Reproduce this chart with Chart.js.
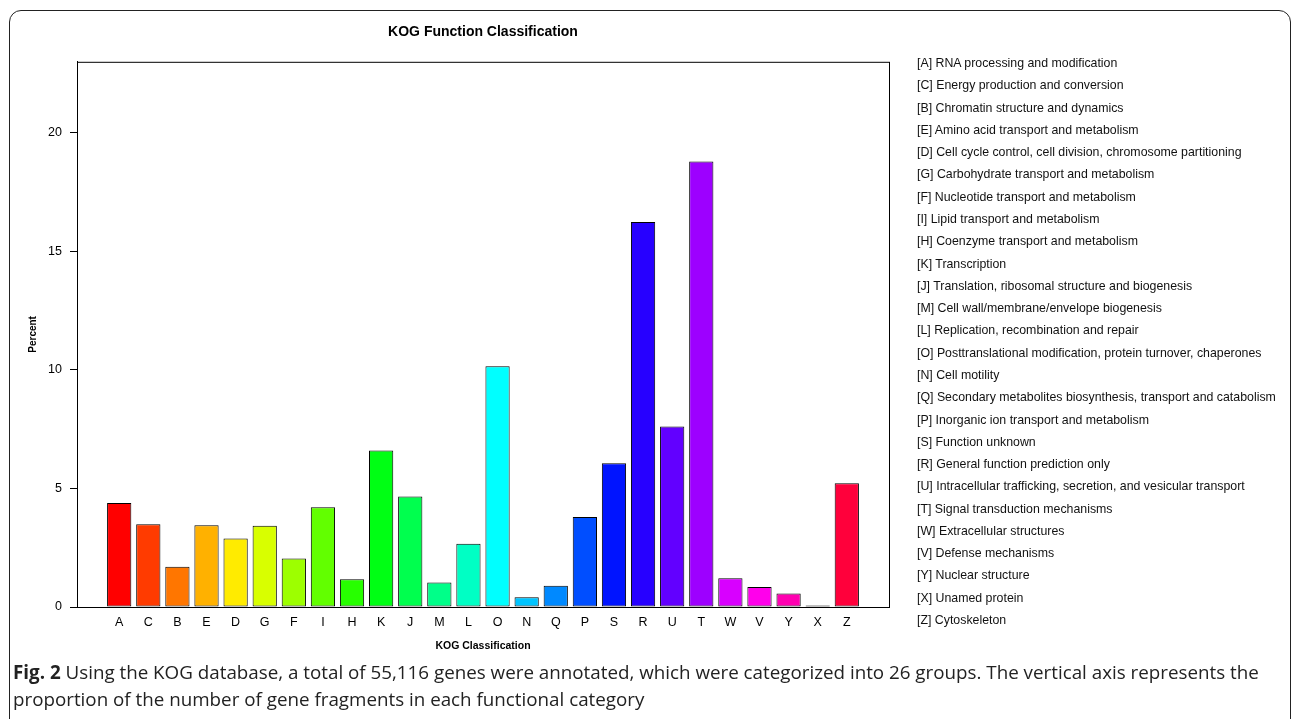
<!DOCTYPE html>
<html lang="en">
<head>
<meta charset="UTF-8">
<title>KOG Function Classification</title>
<script src="https://cdn.jsdelivr.net/npm/chart.js"></script>
<style>
  body { margin: 0; background: #fff; width: 1295px; height: 719px; overflow: hidden; position: relative; font-family: "Liberation Sans", Arial, sans-serif; }
  .frame { position: absolute; left: 9px; top: 10px; width: 1280px; height: 730px; border: 1.5px solid #222; border-radius: 12px; }
  .plot { position: absolute; left: 0; top: 0; width: 966px; height: 660px; }
  .legend { position: absolute; left: 917px; top: 52px; font-size: 12.35px; line-height: 22.28px; color: #111; white-space: nowrap; }
  .caption { position: absolute; left: 13px; top: 659px; width: 1275px; font-family: "Open Sans", sans-serif; font-size: 18.8px; line-height: 27px; color: #222; white-space: nowrap; }
</style>
</head>
<body>
<div class="frame"></div>
<div class="plot"><canvas id="kogChart"></canvas></div>
<div class="legend" id="legend"></div>
<div class="caption"><b>Fig. 2</b> Using the KOG database, a total of 55,116 genes were annotated, which were categorized into 26 groups. The vertical axis represents the<br>proportion of the number of gene fragments in each functional category</div>

<script>
  // categories in plotting order
  var codes = ['A', 'C', 'B', 'E', 'D', 'G', 'F', 'I', 'H', 'K', 'J', 'M', 'L',
               'O', 'N', 'Q', 'P', 'S', 'R', 'U', 'T', 'W', 'V', 'Y', 'X', 'Z'];
  var names = [
    'RNA processing and modification',
    'Energy production and conversion',
    'Chromatin structure and dynamics',
    'Amino acid transport and metabolism',
    'Cell cycle control, cell division, chromosome partitioning',
    'Carbohydrate transport and metabolism',
    'Nucleotide transport and metabolism',
    'Lipid transport and metabolism',
    'Coenzyme transport and metabolism',
    'Transcription',
    'Translation, ribosomal structure and biogenesis',
    'Cell wall/membrane/envelope biogenesis',
    'Replication, recombination and repair',
    'Posttranslational modification, protein turnover, chaperones',
    'Cell motility',
    'Secondary metabolites biosynthesis, transport and catabolism',
    'Inorganic ion transport and metabolism',
    'Function unknown',
    'General function prediction only',
    'Intracellular trafficking, secretion, and vesicular transport',
    'Signal transduction mechanisms',
    'Extracellular structures',
    'Defense mechanisms',
    'Nuclear structure',
    'Unamed protein',
    'Cytoskeleton'
  ];
  // percent of annotated genes
  var percent = [4.39, 3.49, 1.70, 3.45, 2.89, 3.43, 2.05, 4.21, 1.17, 6.60, 4.66, 1.03, 2.67,
                 10.16, 0.41, 0.90, 3.80, 6.06, 16.24, 7.61, 18.79, 1.21, 0.84, 0.57, 0.03, 5.22];
  var yTicks = [0, 5, 10, 15, 20];

  var barColors = ['#FF0000', '#FF3B00', '#FF7600', '#FFB100', '#FFEB00', '#D8FF00', '#9DFF00',
                   '#62FF00', '#27FF00', '#00FF14', '#00FF4E', '#00FF89', '#00FFC4', '#00FFFF',
                   '#00C4FF', '#0089FF', '#004EFF', '#0014FF', '#2700FF', '#6200FF', '#9D00FF',
                   '#D800FF', '#FF00EB', '#FF00B1', '#FF0076', '#FF003B'];

  // legend text on the right
  var legendDiv = document.getElementById('legend');
  codes.forEach(function (c, i) {
    var row = document.createElement('div');
    row.textContent = '[' + c + '] ' + names[i];
    legendDiv.appendChild(row);
  });

  var fontFam = '"Liberation Sans", Arial, sans-serif';

  // draws the full box around the plot region
  var boxPlugin = {
    id: 'plotBox',
    afterDraw: function (chart) {
      var a = chart.chartArea, ctx = chart.ctx;
      ctx.save();
      ctx.strokeStyle = '#000';
      ctx.lineWidth = 1;
      ctx.strokeRect(a.left + 0.5, a.top + 0.5, a.right - a.left, a.bottom - a.top);
      ctx.restore();
    }
  };

  var ctx = document.getElementById('kogChart').getContext('2d');
  var kogChart = new Chart(ctx, {
    type: 'bar',
    data: {
      datasets: [{
        data: percent.map(function (v, i) { return { x: i, y: v }; }),
        backgroundColor: barColors,
        borderColor: '#000',
        borderWidth: 1,
        borderSkipped: false,
        minBarLength: 1.5,   // so the near-zero X bar still shows as a line
        categoryPercentage: 1,
        barPercentage: 0.833
      }]
    },
    options: {
      responsive: true,
      maintainAspectRatio: false,
      animation: false,
      layout: { padding: { left: 0, right: 0, top: 0, bottom: 3 } },
      plugins: {
        legend: { display: false },
        tooltip: { enabled: false },
        title: {
          display: true,
          text: 'KOG Function Classification',
          color: '#000',
          font: { family: fontFam, size: 14, weight: 'bold' },
          padding: { top: 24, bottom: 21 }
        }
      },
      scales: {
        x: {
          type: 'linear',
          offset: false,
          min: -1.45,
          max: 26.45,
          afterBuildTicks: function (scale) {
            scale.ticks = codes.map(function (c, i) { return { value: i }; });
          },
          afterFit: function (scale) { scale.height = 50; },
          grid: { display: false },
          border: { display: true, color: '#000', width: 1 },
          ticks: {
            autoSkip: false,
            maxRotation: 0,
            padding: 0,
            color: '#000',
            font: { family: fontFam, size: 12.5 },
            callback: function (v) { return codes[v]; }
          },
          title: {
            display: true,
            text: 'KOG Classification',
            color: '#000',
            font: { family: fontFam, size: 10.5, weight: 'bold' },
            padding: { top: 0, bottom: 5 }
          }
        },
        y: {
          min: 0,
          max: 23,
          afterBuildTicks: function (scale) {
            scale.ticks = yTicks.map(function (v) { return { value: v }; });
          },
          afterFit: function (scale) { scale.width = 77; },
          grid: { drawOnChartArea: false, tickLength: 7, color: '#000', tickColor: '#000' },
          border: { display: true, color: '#000', width: 1 },
          ticks: {
            padding: 8,
            color: '#000',
            font: { family: fontFam, size: 12.5 }
          },
          title: {
            display: true,
            text: 'Percent',
            color: '#000',
            font: { family: fontFam, size: 10, weight: 'bold' },
            padding: { top: 27, bottom: 0 }
          }
        },
        // empty right-hand axis so the plot sits centred under the title
        yRight: {
          position: 'right',
          min: 0,
          max: 23,
          afterFit: function (scale) { scale.width = 77; },
          grid: { display: false },
          border: { display: false },
          ticks: { display: false }
        }
      }
    },
    plugins: [boxPlugin]
  });
</script>
</body>
</html>
